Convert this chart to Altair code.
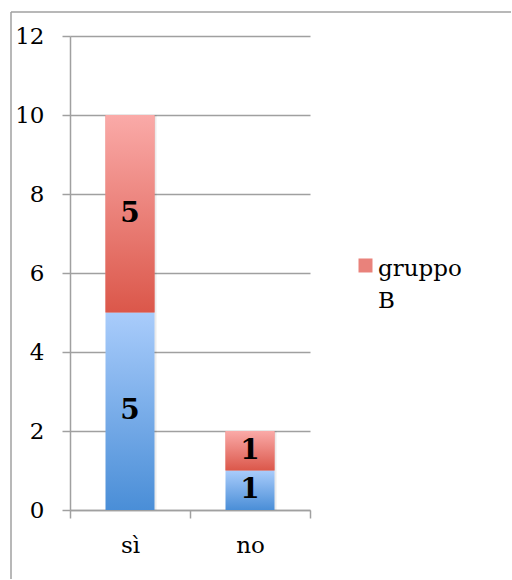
import altair as alt
import pandas as pd

# Risposte per categoria, impilate per gruppo
categories = ["sì", "no"]
gruppo_a = [5, 1]
gruppo_b = [5, 1]
serie_legenda = ["gruppo B"]
y_ticks = [0, 2, 4, 6, 8, 10, 12]

df = pd.DataFrame({"cat": categories, "a": gruppo_a, "b": gruppo_b})
frame_df = pd.DataFrame({"k": [0]})

FONT = "DejaVu Serif"
FS = 23
GRID = "#a0a0a0"
BAR_W = 49


def vgrad(top, bottom):
    return alt.LinearGradient(
        gradient="linear",
        stops=[alt.GradientStop(color=top, offset=0),
               alt.GradientStop(color=bottom, offset=1)],
        x1=0, x2=0, y1=0, y2=1,
    )


BLUE = vgrad("#a9ccfb", "#4a8ed7")
RED = vgrad("#faaaa8", "#db574a")

x_enc = alt.X(
    "cat:N", sort=categories,
    scale=alt.Scale(paddingInner=0, paddingOuter=0),
    axis=alt.Axis(title=None, tickBand="extent", labelAngle=0, grid=False,
                  domainColor=GRID, domainWidth=1.5, tickColor=GRID,
                  tickWidth=1.5, tickSize=8, labelFont=FONT,
                  labelFontSize=FS, labelColor="black", labelPadding=16),
)

y_scale = alt.Scale(domain=[0, 12], nice=False)
y_axis = alt.Axis(title=None, values=y_ticks, grid=True, gridColor=GRID,
                  gridWidth=1.5, domainColor=GRID, domainWidth=1.5,
                  tickColor=GRID, tickWidth=1.5, tickSize=8, labelFont=FONT,
                  labelFontSize=FS, labelColor="black", labelPadding=18)


def y_enc(field):
    return alt.Y(field, scale=y_scale, axis=y_axis)


base = alt.Chart(df).transform_calculate(
    top="datum.a + datum.b",
    mid_a="datum.a / 2",
    mid_b="datum.a + datum.b / 2",
    serie=f"'{serie_legenda[0]}'",
)

# chart frame (top and left edges)
frame_top = alt.Chart(frame_df).mark_rule(color=GRID, strokeWidth=1.5).encode(
    x=alt.value(-59), x2=alt.value(441), y=alt.value(-24))
frame_left = alt.Chart(frame_df).mark_rule(color=GRID, strokeWidth=1.5).encode(
    x=alt.value(-59), y=alt.value(-24), y2=alt.value(543))

shadow = base.mark_bar(size=BAR_W, color="#000000", opacity=0.08, xOffset=2).encode(
    x=x_enc, y=y_enc("top:Q"), y2=alt.datum(0))

# solid layer carrying the legend entry for gruppo B
legend_bar = base.mark_bar(size=BAR_W).encode(
    x=x_enc, y=y_enc("top:Q"), y2="a:Q",
    color=alt.Color(
        "serie:N",
        scale=alt.Scale(domain=serie_legenda, range=["#e9827b"]),
        legend=alt.Legend(
            title=None, orient="none", legendX=284, legendY=228, padding=0,
            symbolType="M-1,-2.43H1V-0.43H-1Z", symbolSize=196,
            symbolStrokeWidth=0, labelFont=FONT, labelFontSize=FS,
            labelColor="black", labelBaseline="alphabetic", labelOffset=1,
            labelExpr="split(datum.label, ' ')",
        ),
    ),
)

bars_a = base.mark_bar(size=BAR_W, color=BLUE).encode(
    x=x_enc, y=y_enc("a:Q"), y2=alt.datum(0))
bars_b = base.mark_bar(size=BAR_W, color=RED).encode(
    x=x_enc, y=y_enc("top:Q"), y2="a:Q")

text_style = dict(font=FONT, fontSize=28, fontWeight="bold", color="black",
                  align="center", baseline="middle")
labels_a = base.mark_text(**text_style).encode(
    x=x_enc, y=y_enc("mid_a:Q"), text="a:Q")
labels_b = base.mark_text(**text_style).encode(
    x=x_enc, y=y_enc("mid_b:Q"), text="b:Q")

chart = alt.layer(
    frame_top, frame_left, shadow, legend_bar, bars_a, bars_b, labels_a, labels_b
).properties(
    width=240, height=474,
    autosize=alt.AutoSizeParams(type="none"),
    padding={"left": 70, "top": 36, "right": 202, "bottom": 70},
    background="white",
).configure(
    style={"guide-label": {"lineHeight": 32}},
).configure_view(stroke="transparent")

chart.save("out.html", embed_options={"renderer": "svg", "actions": False})
